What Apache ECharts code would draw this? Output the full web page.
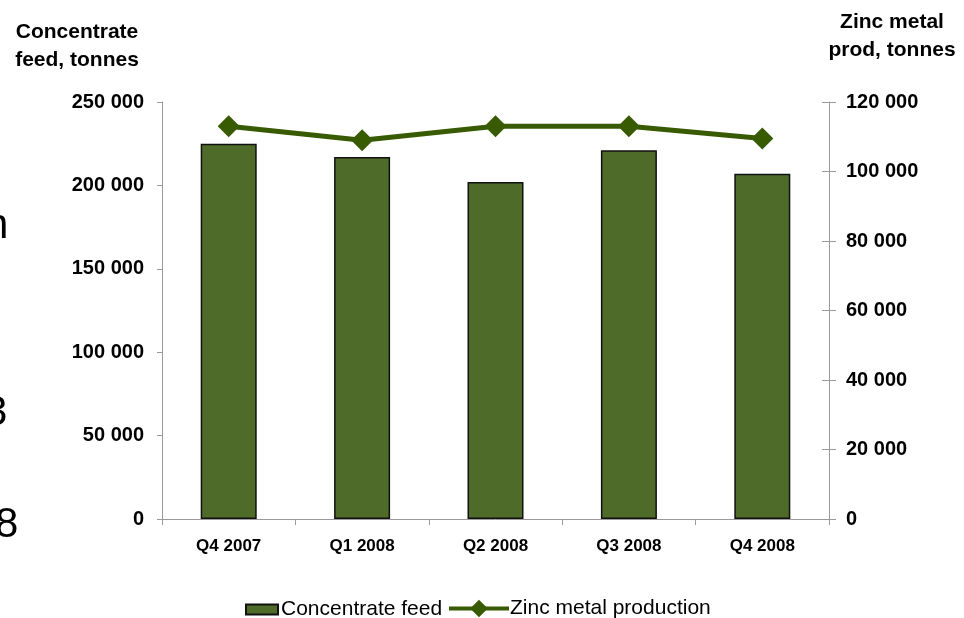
<!DOCTYPE html>
<html>
<head>
<meta charset="utf-8">
<script src="https://cdn.jsdelivr.net/npm/echarts@6/dist/echarts.min.js"></script>
<style>
  html, body { margin: 0; padding: 0; background: #ffffff; }
  #chart { width: 964px; height: 618px; }
</style>
</head>
<body>
<div id="chart"></div>
<script>
// Quarterly zinc smelter figures
const categories = ['Q4 2007', 'Q1 2008', 'Q2 2008', 'Q3 2008', 'Q4 2008'];
const concentrateFeed = [225000, 217000, 202000, 221000, 207000];
const zincProduction = [113000, 109000, 113000, 113000, 109500];

// Axis ranges (tonnes)
const feedAxis = { min: 0, max: 250000, interval: 50000 };
const zincAxis = { min: 0, max: 120000, interval: 20000 };

// Text fragments at the left edge of the slide
const sideFragments = ['n', '3', '8'];

const FONT = '"Liberation Sans", Arial, Helvetica, sans-serif';
const AXIS_GREY = '#9a9a9a';
const BAR_GREEN = '#4e6b2a';
const LINE_GREEN = '#385b02';

function spaced(v) {
  return String(v).replace(/\B(?=(\d{3})+(?!\d))/g, ' ');
}

const chart = echarts.init(document.getElementById('chart'), null, { renderer: 'canvas' });

const fragmentPos = [
  { x: -15, y: 226 },
  { x: -16, y: 413 },
  { x: -5, y: 525 }
];

chart.setOption({
  animation: false,
  backgroundColor: '#ffffff',
  grid: { left: 162, right: 135, top: 102, bottom: 99, containLabel: false },
  legend: [
    {
      data: [{ name: 'Concentrate feed', icon: 'rect' }],
      left: 240, top: 594,
      itemWidth: 32, itemHeight: 10, itemGap: 0,
      textStyle: { fontFamily: FONT, fontSize: 21, color: '#000', padding: [0, 0, 0, -2] },
      selectedMode: false
    },
    {
      data: ['Zinc metal production'],
      left: 442, top: 593,
      itemWidth: 60, itemHeight: 22, itemGap: 0,
      lineStyle: { width: 4 },
      textStyle: { fontFamily: FONT, fontSize: 21, color: '#000', padding: [0, 0, 0, -4] },
      selectedMode: false
    }
  ],
  xAxis: {
    type: 'category',
    data: categories,
    boundaryGap: true,
    axisLine: { lineStyle: { color: AXIS_GREY, width: 1 } },
    axisTick: { show: true, interval: 0, alignWithLabel: false, length: 6, lineStyle: { color: AXIS_GREY } },
    axisLabel: { interval: 0, margin: 19, fontFamily: FONT, fontWeight: 'bold', fontSize: 17, color: '#000' }
  },
  yAxis: [
    {
      type: 'value', position: 'left',
      min: feedAxis.min, max: feedAxis.max, interval: feedAxis.interval,
      splitLine: { show: false },
      axisLine: { show: true, lineStyle: { color: AXIS_GREY } },
      axisTick: { show: true, length: 5, lineStyle: { color: AXIS_GREY } },
      axisLabel: { margin: 18, fontFamily: FONT, fontWeight: 'bold', fontSize: 20, color: '#000', formatter: spaced }
    },
    {
      type: 'value', position: 'right',
      min: zincAxis.min, max: zincAxis.max, interval: zincAxis.interval,
      splitLine: { show: false },
      axisLine: { show: true, lineStyle: { color: AXIS_GREY } },
      axisTick: { show: true, length: 7, lineStyle: { color: AXIS_GREY } },
      axisLabel: { margin: 17, fontFamily: FONT, fontWeight: 'bold', fontSize: 20, color: '#000', formatter: spaced }
    },
    {
      // inner half of the right-hand tick marks
      type: 'value', position: 'right',
      min: zincAxis.min, max: zincAxis.max, interval: zincAxis.interval,
      splitLine: { show: false },
      axisLine: { show: false },
      axisTick: { show: true, inside: true, length: 7, lineStyle: { color: AXIS_GREY } },
      axisLabel: { show: false }
    }
  ],
  series: [
    {
      name: 'Concentrate feed',
      type: 'bar',
      yAxisIndex: 0,
      data: concentrateFeed,
      barWidth: 56,
      itemStyle: { color: BAR_GREEN, borderColor: '#111', borderWidth: 1.5 },
      z: 2
    },
    {
      name: 'Zinc metal production',
      type: 'line',
      yAxisIndex: 1,
      data: zincProduction,
      symbol: 'diamond',
      symbolSize: 22,
      lineStyle: { color: LINE_GREEN, width: 5 },
      itemStyle: { color: LINE_GREEN },
      z: 3
    }
  ],
  graphic: [
    {
      type: 'text',
      style: {
        x: 77, y: 46, text: 'Concentrate\nfeed, tonnes',
        font: 'bold 21px ' + FONT, fill: '#000',
        align: 'center', verticalAlign: 'middle', lineHeight: 28
      }
    },
    {
      type: 'text',
      style: {
        x: 892, y: 36, text: 'Zinc metal\nprod, tonnes',
        font: 'bold 21px ' + FONT, fill: '#000',
        align: 'center', verticalAlign: 'middle', lineHeight: 28
      }
    }
  ].concat(sideFragments.map((t, i) => ({
    type: 'text',
    style: {
      x: fragmentPos[i].x, y: fragmentPos[i].y, text: t,
      font: '42px ' + FONT, fill: '#000',
      align: 'left', verticalAlign: 'middle'
    }
  })))
});
</script>
</body>
</html>
